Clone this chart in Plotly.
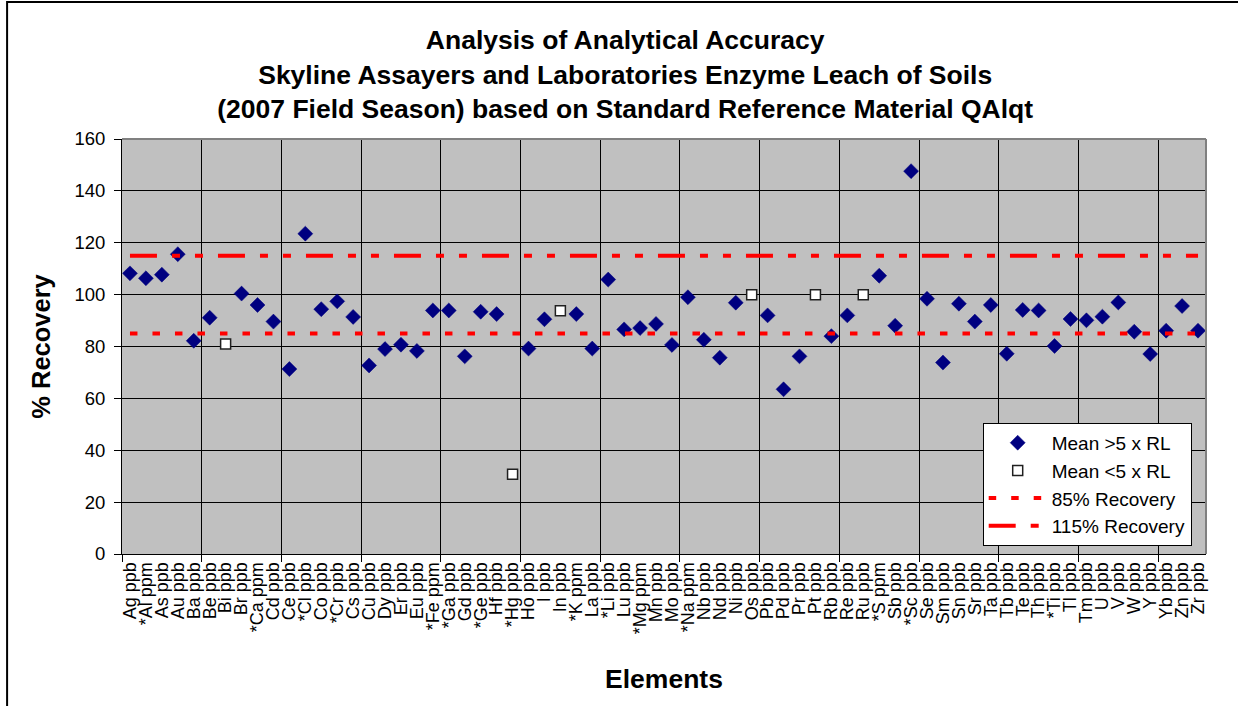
import plotly.graph_objects as go

# Element / unit labels along the category axis ("*" marks major elements)
elements = [
    "Ag ppb", "*Al ppm", "As ppb", "Au ppb", "Ba ppb", "Be ppb", "Bi ppb", "Br ppb",
    "*Ca ppm", "Cd ppb", "Ce ppb", "*Cl ppb", "Co ppb", "*Cr ppb", "Cs ppb", "Cu ppb",
    "Dy ppb", "Er ppb", "Eu ppb", "*Fe ppm", "*Ga ppb", "Gd ppb", "*Ge ppb", "Hf ppb",
    "*Hg ppb", "Ho ppb", "I ppb", "In ppb", "*K ppm", "La ppb", "*Li ppb", "Lu ppb",
    "*Mg ppm", "Mn ppb", "Mo ppb", "*Na ppm", "Nb ppb", "Nd ppb", "Ni ppb", "Os ppb",
    "Pb ppb", "Pd ppb", "Pr ppb", "Pt ppb", "Rb ppb", "Re ppb", "Ru ppb", "*S ppm",
    "Sb ppb", "*Sc ppb", "Se ppb", "Sm ppb", "Sn ppb", "Sr ppb", "Ta ppb", "Tb ppb",
    "Te ppb", "Th ppb", "*Ti ppb", "Tl ppb", "Tm ppb", "U ppb", "V ppb", "W ppb",
    "Y ppb", "Yb ppb", "Zn ppb", "Zr ppb",
]

# % recovery where the mean is more than 5x the reporting limit
mean_above_5rl = [
    108.2, 106.3, 107.7, 115.6, 82.2, 91.1, None, 100.4,
    96.0, 89.6, 71.3, 123.5, 94.4, 97.4, 91.4, 72.7,
    79.0, 80.7, 78.3, 93.9, 93.9, 76.2, 93.4, 92.5,
    None, 79.2, 90.5, None, 92.5, 79.2, 105.8, 86.6,
    87.1, 88.7, 80.6, 99.0, 82.6, 75.7, 96.9, None,
    92.0, 63.5, 76.2, None, 84.0, 92.0, None, 107.3,
    88.0, 147.6, 98.4, 73.8, 96.5, 89.6, 96.0, 77.2,
    94.1, 93.9, 80.2, 90.6, 90.1, 91.5, 97.0, 85.7,
    77.1, 86.1, 95.6, 86.1,
]

# % recovery where the mean is below 5x the reporting limit
mean_below_5rl = {
    "Bi ppb": 81.0,
    "*Hg ppb": 30.7,
    "In ppb": 93.8,
    "Os ppb": 100.0,
    "Pt ppb": 100.0,
    "Ru ppb": 100.0,
}

# Acceptance limits
recovery_low = 85
recovery_high = 115

y_ticks = [0, 20, 40, 60, 80, 100, 120, 140, 160]

FONT = "Arial, Liberation Sans, sans-serif"
idx = list(range(len(elements)))
below_y = [mean_below_5rl.get(e) for e in elements]

fig = go.Figure()

fig.add_trace(go.Scatter(
    x=idx, y=mean_above_5rl, mode="markers", name="Mean >5 x RL",
    marker=dict(symbol="diamond", size=11.5, color="#000080",
                line=dict(width=0.5, color="#000080")),
))
fig.add_trace(go.Scatter(
    x=idx, y=below_y, mode="markers", name="Mean <5 x RL",
    marker=dict(symbol="square", size=10, color="white",
                line=dict(width=1.5, color="#202020")),
))
fig.add_trace(go.Scatter(
    x=[idx[0], idx[-1]], y=[recovery_low, recovery_low], mode="lines",
    name="85% Recovery",
    line=dict(color="#FF0000", width=4, dash="7.5px,15px"),
))
fig.add_trace(go.Scatter(
    x=[idx[0], idx[-1]], y=[recovery_high, recovery_high], mode="lines",
    name="115% Recovery",
    line=dict(color="#FF0000", width=4, dash="27px,15px,8px,15px,8px,15px"),
))
# carrier for the secondary x axis that draws the grid every 5 categories
fig.add_trace(go.Scatter(
    x=[-0.5], y=[None], xaxis="x2", mode="markers", showlegend=False,
    hoverinfo="skip",
))

x_range = [-0.5, len(elements) - 0.5]

fig.update_layout(
    width=1238, height=706,
    margin=dict(l=122, r=32, t=139, b=152),
    paper_bgcolor="white",
    plot_bgcolor="#C0C0C0",
    font=dict(family=FONT, size=18, color="black"),
    title=dict(
        text="Analysis of Analytical Accuracy<br>"
             "Skyline Assayers and Laboratories Enzyme Leach of Soils<br>"
             "(2007 Field Season) based on Standard Reference Material QAlqt",
        x=0.505, xanchor="center", y=0.93, yanchor="top",
        font=dict(family=FONT, size=26.5, color="black", weight="bold"),
    ),
    xaxis=dict(
        range=x_range, tickmode="array", tickvals=idx, ticktext=elements,
        tickangle=-90, tickfont=dict(size=18), ticks="", showgrid=False,
        zeroline=False, showline=True, linecolor="black", linewidth=1,
        title=dict(text="<b>Elements</b>", font=dict(size=26.5), standoff=36),
    ),
    xaxis2=dict(
        overlaying="x", anchor="y", side="bottom", range=x_range,
        tickmode="linear", tick0=-0.5, dtick=5, showticklabels=False,
        ticks="outside", ticklen=7, tickcolor="black",
        showgrid=True, gridcolor="black", gridwidth=1, zeroline=False,
    ),
    yaxis=dict(
        range=[0, 160], tickmode="array", tickvals=y_ticks,
        ticks="outside", ticklen=7, tickcolor="black", tickfont=dict(size=18.5),
        ticklabelstandoff=5,
        showgrid=True, gridcolor="black", gridwidth=1, zeroline=False,
        showline=True, linecolor="black", linewidth=1,
        title=dict(text="<b>% Recovery</b>", font=dict(size=25.5), standoff=16),
    ),
    legend=dict(
        x=0.794, y=0.316, xanchor="left", yanchor="top",
        bgcolor="white", bordercolor="black", borderwidth=1,
        font=dict(size=19), itemwidth=58, tracegroupgap=0,
    ),
    showlegend=True,
    shapes=[
        # plot frame top and right edges
        dict(type="line", xref="paper", yref="paper", x0=0, x1=1, y0=1, y1=1,
             line=dict(color="#808080", width=2), layer="above"),
        dict(type="line", xref="paper", yref="paper", x0=1, x1=1, y0=0, y1=1,
             line=dict(color="#808080", width=2), layer="above"),
        # chart area border
        dict(type="rect", xref="paper", yref="paper",
             x0=-0.106, x1=1.04, y0=-0.39, y1=1.330,
             line=dict(color="black", width=2), fillcolor="rgba(0,0,0,0)",
             layer="above"),
    ],
)

fig.write_html("out.html")
